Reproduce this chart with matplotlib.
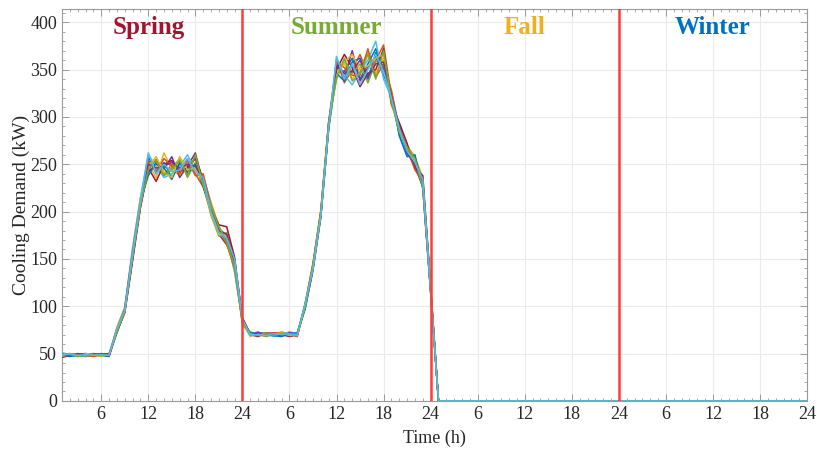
import matplotlib
matplotlib.use('Agg')
import numpy as np
import matplotlib.pyplot as plt
from matplotlib.ticker import MultipleLocator, FixedLocator

# hourly cooling demand (kW), one row per scenario
SPRING = [
    [48, 49, 48, 47, 48, 49, 48, 76, 97, 158, 212, 258, 240, 252, 236, 250, 242, 258, 232, 198, 178, 170, 142, 84],
    [50, 48, 49, 50, 48, 48, 49, 74, 95, 152, 205, 245, 255, 238, 250, 244, 256, 240, 226, 205, 182, 175, 150, 86],
    [47, 48, 50, 48, 49, 48, 48, 78, 99, 160, 214, 250, 236, 262, 245, 238, 252, 248, 236, 210, 185, 168, 138, 82],
    [49, 50, 47, 49, 50, 49, 47, 72, 94, 150, 208, 242, 250, 245, 258, 236, 248, 262, 230, 202, 176, 165, 145, 88],
    [48, 47, 49, 48, 47, 50, 49, 75, 96, 155, 210, 252, 244, 240, 246, 256, 236, 252, 228, 196, 174, 178, 148, 80],
    [51, 49, 48, 47, 49, 47, 48, 77, 98, 162, 215, 260, 248, 236, 240, 248, 260, 244, 238, 208, 180, 172, 136, 85],
    [46, 48, 49, 50, 48, 49, 50, 73, 93, 148, 204, 246, 232, 250, 254, 242, 246, 256, 234, 204, 186, 184, 152, 87],
    [49, 47, 48, 49, 50, 48, 47, 76, 96, 156, 211, 238, 252, 246, 234, 252, 240, 250, 226, 200, 178, 170, 144, 83],
    [48, 50, 49, 48, 47, 49, 48, 74, 95, 154, 206, 254, 242, 256, 248, 240, 254, 238, 240, 206, 182, 166, 140, 86],
    [47, 49, 48, 50, 49, 47, 49, 77, 98, 158, 213, 248, 258, 242, 236, 258, 244, 246, 230, 198, 176, 174, 146, 84],
    [48, 48, 50, 49, 48, 50, 48, 75, 97, 157, 209, 250, 246, 248, 252, 246, 250, 248, 234, 202, 180, 176, 146, 85],
    [49, 49, 47, 48, 49, 48, 49, 73, 94, 151, 207, 244, 254, 238, 244, 254, 238, 260, 228, 206, 184, 168, 142, 83],
    [48, 50, 48, 49, 48, 49, 48, 76, 96, 156, 210, 262, 240, 250, 242, 244, 256, 242, 236, 200, 178, 172, 150, 86],
]
SUMMER = [
    [72, 70, 71, 69, 70, 72, 70, 102, 142, 198, 292, 352, 348, 362, 340, 356, 372, 350, 318, 288, 266, 254, 232, 118],
    [70, 73, 69, 71, 72, 70, 71, 98, 138, 194, 288, 360, 336, 350, 366, 344, 360, 376, 322, 282, 262, 250, 228, 116],
    [68, 71, 72, 70, 69, 71, 70, 104, 146, 202, 296, 348, 356, 340, 352, 368, 346, 362, 312, 292, 270, 258, 236, 120],
    [71, 69, 70, 72, 71, 69, 72, 100, 140, 196, 290, 356, 342, 370, 338, 352, 364, 344, 326, 286, 264, 248, 226, 114],
    [73, 70, 68, 70, 73, 70, 69, 99, 144, 200, 294, 340, 360, 346, 356, 336, 358, 368, 316, 290, 268, 256, 234, 119],
    [69, 72, 71, 68, 70, 73, 71, 103, 141, 197, 289, 362, 344, 334, 348, 360, 380, 340, 320, 284, 260, 252, 230, 117],
    [70, 68, 72, 71, 70, 68, 70, 101, 143, 199, 293, 350, 366, 352, 332, 346, 350, 372, 314, 294, 272, 246, 238, 121],
    [72, 71, 70, 69, 68, 71, 72, 97, 139, 195, 287, 346, 338, 358, 362, 340, 368, 352, 324, 280, 258, 260, 224, 115],
    [71, 70, 69, 72, 71, 70, 68, 102, 145, 201, 295, 358, 352, 344, 344, 372, 342, 356, 328, 288, 266, 244, 232, 118],
    [69, 71, 70, 70, 72, 69, 71, 100, 142, 198, 291, 344, 358, 366, 350, 354, 362, 366, 318, 286, 264, 254, 228, 116],
    [70, 72, 71, 70, 69, 72, 70, 101, 141, 197, 290, 354, 346, 348, 360, 342, 356, 358, 322, 290, 262, 250, 230, 117],
    [71, 69, 72, 69, 71, 70, 71, 99, 143, 199, 292, 342, 362, 338, 346, 366, 340, 370, 316, 284, 268, 256, 226, 119],
    [70, 70, 69, 71, 70, 71, 69, 103, 140, 196, 289, 364, 340, 356, 334, 350, 366, 348, 320, 288, 264, 252, 234, 116],
]
FALL = [0] * 24
WINTER = [0] * 24

SEASONS = ['Spring', 'Summer', 'Fall', 'Winter']
SEASON_COLORS = ['#A2142F', '#77AC30', '#EDB120', '#0072BD']
HOURS = np.arange(1, 97)

COLORS = ['#0072BD', '#D95319', '#EDB120', '#7E2F8E',
          '#77AC30', '#4DBEEE', '#A2142F']

plt.rcParams['font.family'] = ['Liberation Serif', 'DejaVu Serif']

fig = plt.figure(figsize=(8.17, 4.51), dpi=100)
ax = fig.add_axes([0.0759, 0.111, 0.912, 0.869])

for i in range(len(SPRING)):
    y = SPRING[i] + SUMMER[i] + FALL + WINTER
    ax.plot(HOURS, y, color=COLORS[i % len(COLORS)], lw=1.1, zorder=3)

# season boundaries
for b in [24, 48, 72]:
    ax.axvline(b, color='#FF3B3B', lw=1.8, zorder=4)

for k, name in enumerate(SEASONS):
    ax.text(12 + 24 * k, 388, name, color=SEASON_COLORS[k], fontsize=18,
            fontweight='bold', ha='center', va='baseline', zorder=5)

ax.set_xlim(1, 96)
ax.set_ylim(0, 414)
xt = np.arange(6, 97, 6)
ax.xaxis.set_major_locator(FixedLocator(xt))
ax.set_xticklabels([str((t - 1) % 24 + 1) for t in xt])
ax.xaxis.set_minor_locator(MultipleLocator(1))
ax.yaxis.set_major_locator(MultipleLocator(50))
ax.yaxis.set_minor_locator(MultipleLocator(10))

ax.grid(True, which='major', color='#ebebeb', lw=0.8, zorder=0)
ax.set_axisbelow(True)
ax.tick_params(which='both', direction='in', top=True, right=True,
               color='#9a9a9a', labelsize=13, labelcolor='#262626')
ax.tick_params(which='major', length=5, width=0.7)
ax.tick_params(which='minor', length=2.5, width=0.6)
for s in ax.spines.values():
    s.set_color('#9a9a9a')
    s.set_linewidth(0.8)

ax.set_xlabel('Time (h)', fontsize=13, color='#262626', labelpad=5)
ax.set_ylabel('Cooling Demand (kW)', fontsize=14, color='#262626', labelpad=0)

fig.savefig('out.png', dpi=100)
